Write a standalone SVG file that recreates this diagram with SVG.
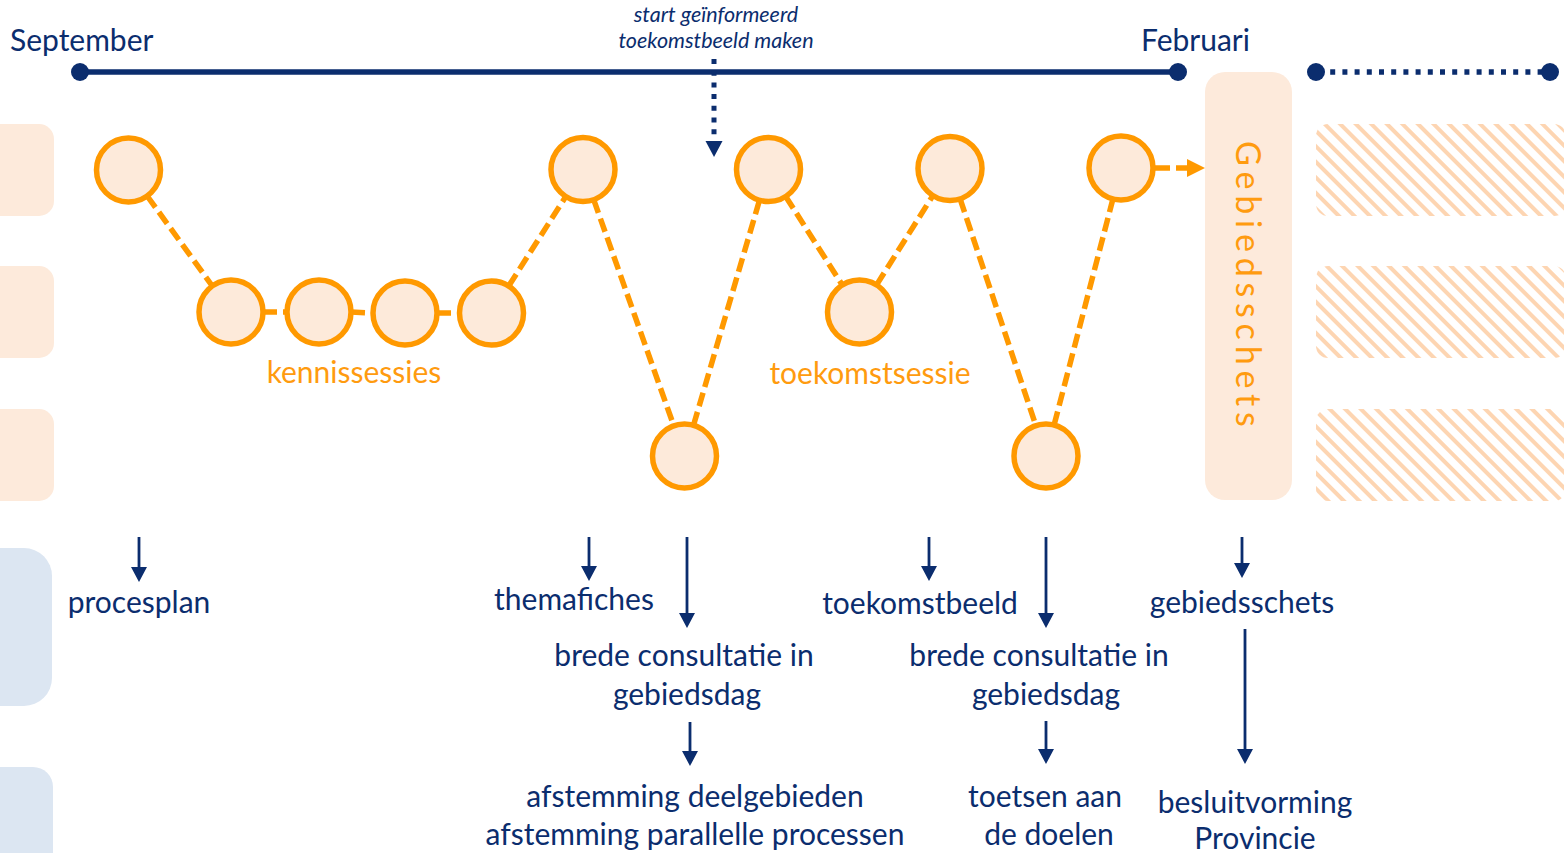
<svg xmlns="http://www.w3.org/2000/svg" width="1564" height="853" viewBox="0 0 1564 853">
<style>
.txt{font-family:Lato,"Noto Sans",sans-serif;font-size:30px;fill:#0B2D6E}
.ora{font-family:Lato,"Noto Sans",sans-serif;font-size:30px;fill:#FF9B0F}
.ital{font-family:Lato,"Noto Sans",sans-serif;font-size:21.5px;font-style:italic;fill:#0B2D6E}
.peach{fill:#FDEADB}
.blue{fill:#DCE6F2}
.node{fill:#FDEADA;stroke:#FF9900;stroke-width:5.5}
.dash{stroke:#FF9900;stroke-width:5.5;stroke-dasharray:14 6;fill:none}
.nav{stroke:#0B2D6E;stroke-width:2.8;fill:none}
</style>
<defs>
<marker id="ah" markerUnits="userSpaceOnUse" markerWidth="16" markerHeight="16" refX="0" refY="8" orient="auto" viewBox="0 0 16 16">
<path d="M0,0 L15,8 L0,16 z" fill="#0B2D6E"/>
</marker>
<pattern id="hatch" patternUnits="userSpaceOnUse" width="11" height="11" patternTransform="rotate(-45)">
<rect x="0" y="0" width="4" height="11" fill="#FDD5B2"/>
</pattern>
</defs>

<g id="background">
<rect class="peach" x="-20" y="124" width="74" height="92" rx="15"/>
<rect class="peach" x="-20" y="266" width="74" height="92" rx="15"/>
<rect class="peach" x="-20" y="409" width="74" height="92" rx="15"/>
<rect class="blue" x="-30" y="548" width="82" height="158" rx="28"/>
<rect class="blue" x="-30" y="767" width="83" height="120" rx="20"/>
<rect x="1316" y="124" width="250" height="92" rx="12" fill="url(#hatch)"/>
<rect x="1316" y="266" width="250" height="92" rx="12" fill="url(#hatch)"/>
<rect x="1316" y="409" width="250" height="92" rx="12" fill="url(#hatch)"/>
</g>

<g id="timeline">
<line x1="80" y1="72" x2="1178" y2="72" stroke="#0B2D6E" stroke-width="5.5"/>
<circle cx="80" cy="72" r="9" fill="#0B2D6E"/>
<circle cx="1178" cy="72" r="9" fill="#0B2D6E"/>
<line x1="1318" y1="72" x2="1550" y2="72" stroke="#0B2D6E" stroke-width="5.5" stroke-dasharray="5 7.2"/>
<circle cx="1316" cy="72" r="9" fill="#0B2D6E"/>
<circle cx="1550" cy="72" r="9" fill="#0B2D6E"/>
<text class="txt" x="10" y="51">September</text>
<text class="txt" x="1141" y="51">Februari</text>
<text class="ital" x="716" y="22" text-anchor="middle">start geïnformeerd</text>
<text class="ital" x="716" y="48" text-anchor="middle">toekomstbeeld maken</text>
<line x1="714" y1="59" x2="714" y2="141" stroke="#0B2D6E" stroke-width="5" stroke-dasharray="5 6.7"/>
<polygon points="705.5,141 722.5,141 714,157" fill="#0B2D6E"/>
</g>

<g id="connectors">
<line class="dash" x1="147.2" y1="196" x2="212.3" y2="286"/>
<line class="dash" x1="263" y1="312" x2="287" y2="312"/>
<line class="dash" x1="351" y1="312" x2="373" y2="313"/>
<line class="dash" x1="437" y1="313" x2="459.5" y2="313"/>
<line class="dash" x1="508.7" y1="286" x2="565.8" y2="196.5"/>
<line class="dash" x1="593.7" y1="199.7" x2="673.8" y2="425.8"/>
<line class="dash" x1="693.5" y1="425.3" x2="759.5" y2="200.2"/>
<line class="dash" x1="785.7" y1="196.5" x2="842.3" y2="285"/>
<line class="dash" x1="876.6" y1="284.9" x2="932.9" y2="195.6"/>
<line class="dash" x1="960.1" y1="198.9" x2="1035.9" y2="425.6"/>
<line class="dash" x1="1054.1" y1="425" x2="1112.9" y2="199"/>
<line class="dash" x1="1153" y1="168" x2="1187" y2="168" style="stroke-dasharray:17 6"/>
<polygon points="1187,159 1205,168 1187,177" fill="#FF9900"/>
<line class="nav" x1="139" y1="537" x2="139" y2="567" marker-end="url(#ah)"/>
<line class="nav" x1="589" y1="537" x2="589" y2="566" marker-end="url(#ah)"/>
<line class="nav" x1="687" y1="537" x2="687" y2="613" marker-end="url(#ah)"/>
<line class="nav" x1="690" y1="722" x2="690" y2="751" marker-end="url(#ah)"/>
<line class="nav" x1="929" y1="537" x2="929" y2="566" marker-end="url(#ah)"/>
<line class="nav" x1="1046" y1="537" x2="1046" y2="613" marker-end="url(#ah)"/>
<line class="nav" x1="1046" y1="721" x2="1046" y2="749" marker-end="url(#ah)"/>
<line class="nav" x1="1242" y1="537" x2="1242" y2="563" marker-end="url(#ah)"/>
<line class="nav" x1="1245" y1="629" x2="1245" y2="749" marker-end="url(#ah)"/>
</g>

<g id="nodes">
<circle id="n1" class="node" cx="128.5" cy="170" r="32"/>
<circle id="n2" class="node" cx="231" cy="312" r="32"/>
<circle id="n3" class="node" cx="319" cy="312" r="32"/>
<circle id="n4" class="node" cx="405" cy="313" r="32"/>
<circle id="n5" class="node" cx="491.5" cy="313" r="32"/>
<circle id="n6" class="node" cx="583" cy="169.5" r="32"/>
<circle id="n7" class="node" cx="684.5" cy="456" r="32"/>
<circle id="n8" class="node" cx="768.5" cy="169.5" r="32"/>
<circle id="n9" class="node" cx="859.5" cy="312" r="32"/>
<circle id="n10" class="node" cx="950" cy="168.5" r="32"/>
<circle id="n11" class="node" cx="1046" cy="456" r="32"/>
<circle id="n12" class="node" cx="1121" cy="168" r="32"/>
<text class="ora" x="354" y="383" text-anchor="middle">kennissessies</text>
<text class="ora" x="870" y="384" text-anchor="middle">toekomstsessie</text>
</g>

<g id="gebiedsschets-box">
<rect class="peach" x="1205" y="72" width="87" height="428" rx="20"/>
<text class="ora" transform="translate(1236,141) rotate(90)" style="font-size:34px;letter-spacing:5.8px">Gebiedsschets</text>
</g>

<g id="outputs">
<text class="txt" x="139" y="613" text-anchor="middle">procesplan</text>
<text class="txt" x="574" y="610" text-anchor="middle">themafiches</text>
<text class="txt" x="684" y="666" text-anchor="middle">brede consultatie in</text>
<text class="txt" x="687" y="705" text-anchor="middle">gebiedsdag</text>
<text class="txt" x="695" y="807" text-anchor="middle">afstemming deelgebieden</text>
<text class="txt" x="695" y="845" text-anchor="middle">afstemming parallelle processen</text>
<text class="txt" x="920" y="614" text-anchor="middle">toekomstbeeld</text>
<text class="txt" x="1039" y="666" text-anchor="middle">brede consultatie in</text>
<text class="txt" x="1046" y="705" text-anchor="middle">gebiedsdag</text>
<text class="txt" x="1045" y="807" text-anchor="middle">toetsen aan</text>
<text class="txt" x="1049" y="845" text-anchor="middle">de doelen</text>
<text class="txt" x="1242" y="613" text-anchor="middle">gebiedsschets</text>
<text class="txt" x="1255" y="813" text-anchor="middle">besluitvorming</text>
<text class="txt" x="1255" y="849" text-anchor="middle">Provincie</text>
</g>
</svg>
